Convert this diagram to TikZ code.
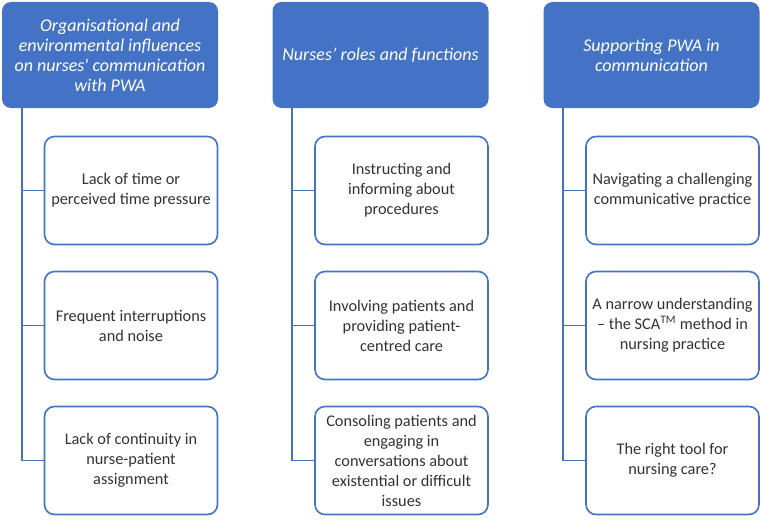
\documentclass[tikz,border=0pt]{standalone}
\usepackage{fontspec}
\setmainfont{Carlito}
\definecolor{obl}{HTML}{4472C4}
\begin{document}
\begin{tikzpicture}[x=1pt,y=-1pt,
  head/.style={fill=obl, rounded corners=9pt, minimum width=216pt, minimum height=106pt,
    text=white, align=center, font=\fontsize{18}{20}\selectfont\itshape, inner sep=0pt},
  child/.style={draw=obl, line width=1.6pt, fill=white, rounded corners=10pt, minimum width=173pt,
    minimum height=108pt, align=center, text=black!80, font=\fontsize{16.3}{20}\selectfont, inner sep=0pt},
  conn/.style={draw=obl, line width=1.8pt}]
\useasboundingbox (0,0) rectangle (762,519);
\node[head] (h1) at (110,55) {Organisational and\\environmental influences\\on nurses\textquotesingle{} communication\\with PWA};
\node[head] (h2) at (380.5,55) {Nurses’ roles and functions};
\node[head] (h3) at (651.5,55) {Supporting PWA in\\communication};

\node[child] (c11) at (131,190.5) {Lack of time or\\perceived time pressure};
\node[child] (c12) at (131,325.5) {Frequent interruptions\\and noise};
\node[child] (c13) at (131,460.5) {Lack of continuity in\\nurse-patient\\assignment};

\node[child] (c21) at (401.5,190.5) {Instructing and\\informing about\\procedures};
\node[child] (c22) at (401.5,325.5) {Involving patients and\\providing patient-\\centred care};
\node[child] (c23) at (401.5,460.5) {Consoling patients and\\engaging in\\conversations about\\existential or difficult\\issues};

\node[child] (c31) at (672.5,190.5) {Navigating a challenging\\communicative practice};
\node[child] (c32) at (672.5,325.5) {A narrow understanding\\– the SCA\textsuperscript{TM} method in\\nursing practice};
\node[child] (c33) at (672.5,460.5) {The right tool for\\nursing care?};

\foreach \i in {1,2,3}{
  \coordinate (v\i) at ([xshift=20pt]h\i.south west);
  \path[conn] (v\i) |- (c\i3.west);
  \path[conn] (c\i1.west) -- (c\i1.west -| v\i);
  \path[conn] (c\i2.west) -- (c\i2.west -| v\i);
}
\end{tikzpicture}
\end{document}
